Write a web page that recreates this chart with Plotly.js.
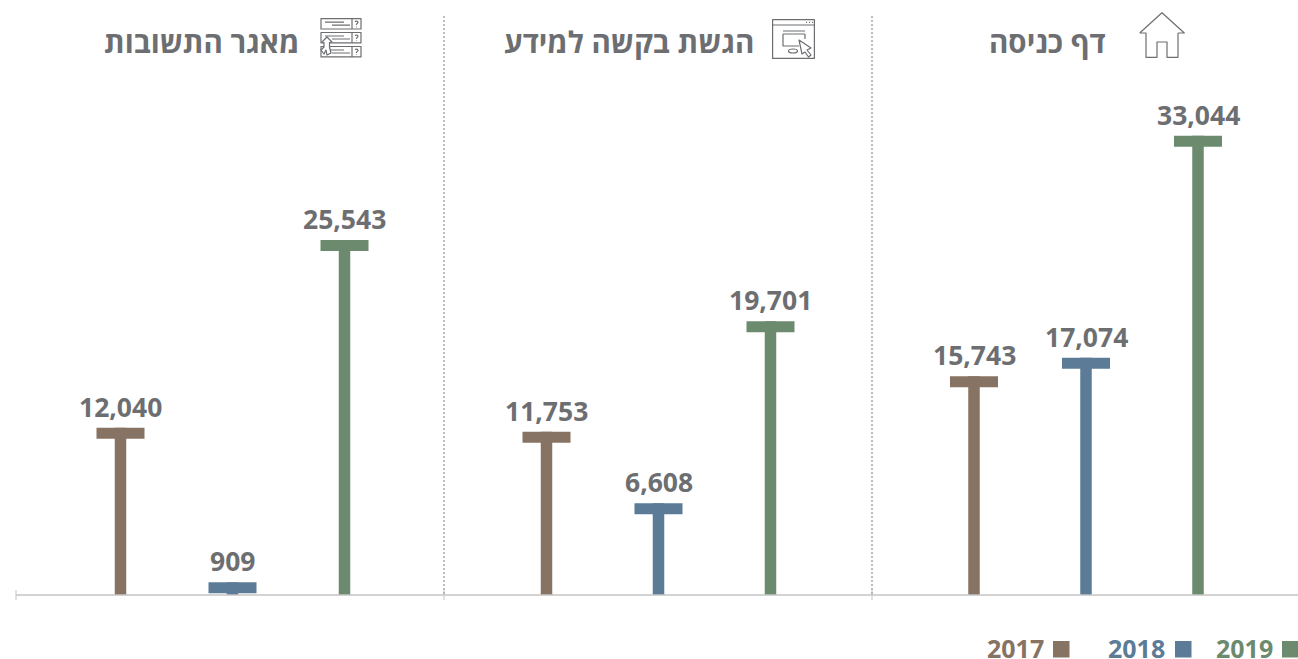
<!DOCTYPE html>
<html><head><meta charset="utf-8">
<script src="https://cdn.plot.ly/plotly-3.0.1.min.js"></script>
<style>html,body{margin:0;padding:0;background:#fff;overflow:hidden}#c{width:1298px;height:659px}</style>
</head><body><div id="c"></div>
<script>
const groups = ["מאגר התשובות", "הגשת בקשה למידע", "דף כניסה"];
const years = ["2017", "2018", "2019"];
const v2017 = [12040, 11753, 15743];
const v2018 = [909, 6608, 17074];
const v2019 = [25543, 19701, 33044];
const colors = ["#877363", "#5b7b96", "#6c8a6d"];
const valueLabels = [["12,040","11,753","15,743"],["909","6,608","17,074"],["25,543","19,701","33,044"]];
const series = [v2017, v2018, v2019];

const W = 1298, H = 659, BASE = 595, PXV = 0.0139, SLOT = 112, X0 = 120.5;
const groupOffsets = [0, 426, 853.5];
const gray = "#6d6e71", FONT = "'Noto Sans', sans-serif", HEB = "'Open Sans','DejaVu Sans',sans-serif";
const px = x => x / W, py = y => 1 - y / H;
const xPos = (g, s) => (groupOffsets[g]) / SLOT + s;
const capH = 11 / PXV;

const traces = [], annotations = [], shapes = [];
series.forEach((vals, s) => {
  const xs = vals.map((_, g) => xPos(g, s));
  traces.push({type:"bar", x:xs, y:vals, width:11.5/SLOT, marker:{color:colors[s]}, hoverinfo:"y", name:years[s], showlegend:false});
  traces.push({type:"bar", x:xs, y:vals.map(()=>capH), base:vals.map(v=>v-capH), width:48/SLOT, marker:{color:colors[s]}, hoverinfo:"skip", showlegend:false});
  vals.forEach((v, g) => annotations.push({x:xs[g], y:v, xref:"x", yref:"y", text:"<b>"+valueLabels[s][g]+"</b>", showarrow:false,
    xanchor:"center", yanchor:"bottom", yshift:1, font:{family:FONT, size:26.5, color:gray}}));
});

const titleX = [201, 629, 1047];
groups.forEach((t, i) => annotations.push({xref:"paper", yref:"paper", x:px(titleX[i]), y:py(41), text:"<b>"+t+"</b>", showarrow:false,
  xanchor:"center", yanchor:"middle", font:{family:HEB, size:29.5, color:gray}}));

// axis line and separators
shapes.push({type:"line", xref:"paper", yref:"paper", x0:px(16), x1:1, y0:py(595), y1:py(595), line:{color:"#c4c4c4", width:1.5}});
[16, 444, 872].forEach((x, i) => {
  shapes.push({type:"line", xref:"paper", yref:"paper", x0:px(x), x1:px(x), y0:py(590), y1:py(600), line:{color:"#c4c4c4", width:1}});
  if (i) shapes.push({type:"line", xref:"paper", yref:"paper", x0:px(x), x1:px(x), y0:py(16), y1:py(595), line:{color:"#a8a8a8", width:1.5, dash:"2px,2px"}});
});

// legend
const legendText = [1015.5, 1136.5, 1244.5], legendBox = [1053, 1175, 1282];
years.forEach((y, i) => {
  annotations.push({xref:"paper", yref:"paper", x:px(legendText[i]), y:py(648), text:"<b>"+y+"</b>", showarrow:false, xanchor:"center", yanchor:"middle",
    font:{family:"'Noto Sans',sans-serif", size:25, color:colors[i]}});
  shapes.push({type:"rect", xref:"paper", yref:"paper", x0:px(legendBox[i]), x1:px(legendBox[i]+16.5), y0:py(641), y1:py(657.5), fillcolor:colors[i], line:{width:0}});
});

// icons
const svg = (w,h,body) => "data:image/svg+xml;utf8," + encodeURIComponent(
  `<svg xmlns="http://www.w3.org/2000/svg" width="${w}" height="${h}" viewBox="0 0 ${w} ${h}"><g fill="none" stroke="${gray}" stroke-width="1.2" stroke-linejoin="round">${body}</g></svg>`);
const house = svg(46,46,'<path d="M0.7 21 L23 0.7 L45.3 21 L39 21 M0.7 21 L7 21 L7 45.3 L18 45.3 L18 30 L28 30 L28 45.3 L39 45.3 L39 21"/>');
const win = svg(43,40,'<rect x=".6" y=".6" width="41.8" height="38.8"/><path d="M.5 6H42.5"/><path d="M34 3.3h1M37 3.3h1M40 3.3h1"/><path d="M11 12H33M11 15H33"/><path d="M11 15V27H27M33 15V20"/><ellipse cx="21" cy="32" rx="4.5" ry="2"/><path d="M27 21L39 29L35 31L39 36L36.5 38L33 33L30 35Z" fill="#fff"/>');
const rows = [0.6,14.5,28.5].map(y=>`<rect x="1" y="${y}" width="40" height="10.4"/><path d="M32 ${y}V${y+10.4}"/><path d="M5 ${y+3.5}H24M12 ${y+6.5}H30"/><path d="M35 ${y+3}q2 -1 3 .5q0 1.5 -1.5 2v1M36.5 ${y+8}v.6"/>`).join("");
const list = svg(42,40,rows+'<path d="M2 24L7 19L12 24L9.5 24.5V29L11 35L7 37L6 32L4 36L1 32L4 29V24.5Z" fill="#fff"/>');
const imgs = [[house,1139,12,46,46],[win,772,19,43,40],[list,320,18,42,40]];

const layout = {
  width:W, height:H, margin:{l:0,r:0,t:0,b:0}, paper_bgcolor:"#fff", plot_bgcolor:"#fff", barmode:"overlay", showlegend:false,
  xaxis:{range:[-X0/SLOT,(W-X0)/SLOT], visible:false, fixedrange:true},
  yaxis:{range:[(BASE-H)/PXV, BASE/PXV], visible:false, fixedrange:true},
  annotations, shapes,
  images: imgs.map(([source,x,y,w,h]) => ({source, xref:"paper", yref:"paper", x:px(x), y:py(y), sizex:w/W, sizey:h/H, xanchor:"left", yanchor:"top", sizing:"stretch", layer:"above"}))
};
Plotly.newPlot("c", traces, layout, {displayModeBar:false, staticPlot:true});
</script></body></html>
